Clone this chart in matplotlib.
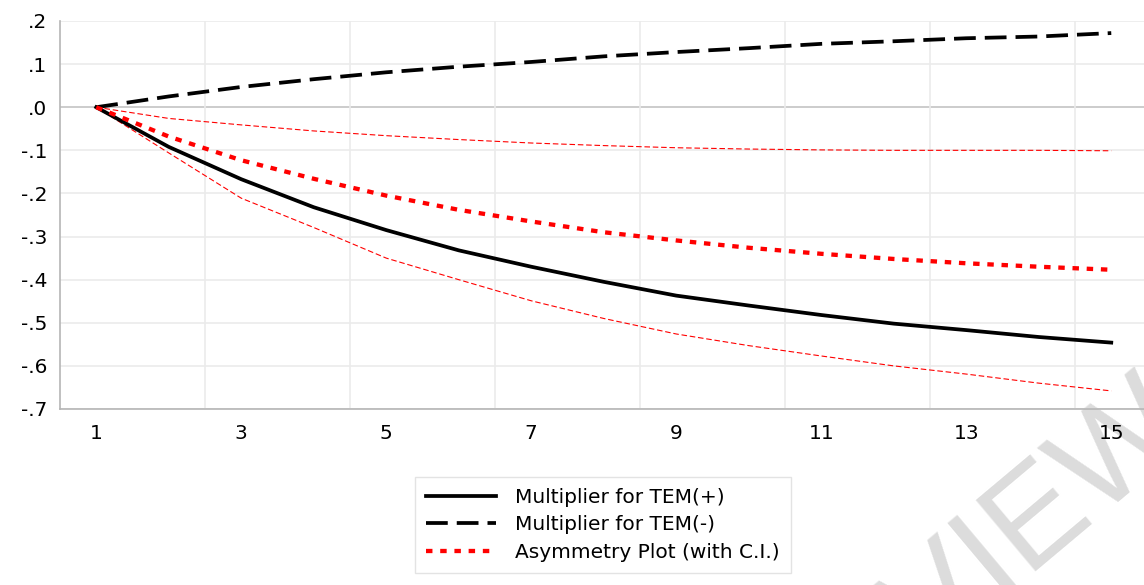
import numpy as np
import matplotlib
matplotlib.use("Agg")
import matplotlib.pyplot as plt

# horizon (periods) and multiplier paths
periods = list(range(1, 16))
tem_pos = [0.0, -0.092, -0.167, -0.232, -0.285, -0.332, -0.370, -0.405,
           -0.437, -0.460, -0.482, -0.502, -0.517, -0.533, -0.546]
tem_neg = [0.0, 0.025, 0.047, 0.065, 0.081, 0.094, 0.105, 0.118,
           0.128, 0.137, 0.147, 0.153, 0.160, 0.164, 0.172]
asym = [0.0, -0.068, -0.123, -0.166, -0.205, -0.238, -0.265, -0.290,
        -0.309, -0.326, -0.340, -0.352, -0.362, -0.370, -0.377]
ci_upper = [0.0, -0.026, -0.041, -0.055, -0.066, -0.075, -0.083, -0.089,
            -0.094, -0.097, -0.099, -0.100, -0.100, -0.100, -0.101]
ci_lower = [0.0, -0.106, -0.211, -0.279, -0.350, -0.400, -0.449, -0.490,
            -0.526, -0.553, -0.577, -0.600, -0.619, -0.640, -0.658]

y_ticks = [0.2, 0.1, 0.0, -0.1, -0.2, -0.3, -0.4, -0.5, -0.6, -0.7]
x_ticks = [1, 3, 5, 7, 9, 11, 13, 15]

plt.rcParams['font.family'] = ['DejaVu Sans']

fig = plt.figure(figsize=(11.44, 5.85), dpi=100)
ax = fig.add_axes([60 / 1144, 1 - 409 / 585, 1087.5 / 1144, 388 / 585])
ax.patch.set_facecolor('none')

# grid: horizontal at ticks, vertical between category labels
for y in y_ticks:
    ax.axhline(y, color='#c4c4c4' if y == 0 else '#ebebeb', lw=1.2, zorder=0)
for x in np.arange(2.5, 15, 2):
    ax.axvline(x, color='#ebebeb', lw=1.2, zorder=0)

ax.plot(periods, ci_upper, color='red', lw=0.8, dashes=(5, 2.5), zorder=2)
ax.plot(periods, ci_lower, color='red', lw=0.8, dashes=(5, 2.5), zorder=2)
ax.plot(periods, tem_pos, color='black', lw=2.7, zorder=3,
        label='Multiplier for TEM(+)')
ax.plot(periods, tem_neg, color='black', lw=2.7, dashes=(5.8, 2.4), zorder=3,
        label='Multiplier for TEM(-)')
ax.plot(periods, asym, color='red', lw=3.1, dashes=(1.5, 1.8), zorder=4,
        label='Asymmetry Plot (with C.I.)')

ax.set_xlim(0.5, 15.5)
ax.set_ylim(-0.7, 0.2)
ax.set_xticks(x_ticks)
ax.set_yticks(y_ticks)
ax.set_yticklabels([('%.1f' % v).replace('0.', '.') for v in y_ticks])
ax.tick_params(length=0, labelsize=14.5, pad=9)
ax.tick_params(axis='x', pad=11)

for side in ['top', 'right']:
    ax.spines[side].set_visible(False)
for side in ['left', 'bottom']:
    ax.spines[side].set_color('#b5b5b5')
    ax.spines[side].set_linewidth(1.2)

leg = fig.legend(loc='center', bbox_to_anchor=(603 / 1144, 1 - 525 / 585),
                 fontsize=14.5, handlelength=3.5, labelspacing=0.42,
                 fancybox=False, edgecolor='#dddddd', borderpad=0.55,
                 handletextpad=0.95, borderaxespad=0)
leg.get_frame().set_linewidth(1.0)

# watermark, drawn beneath the axes content
fig.text(0.833, -0.078, 'PREVIEW', rotation=40, rotation_mode='anchor',
         ha='center', va='baseline', fontsize=98, color='#dcdcdc',
         family='Liberation Sans', zorder=-1)

fig.savefig('out.png', dpi=100)
